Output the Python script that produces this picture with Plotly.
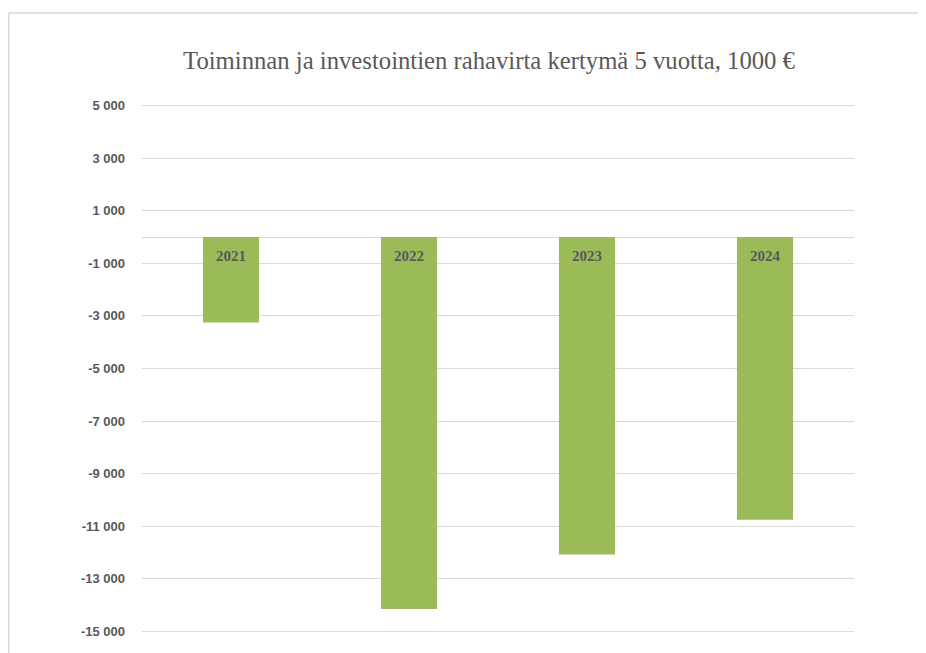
import plotly.graph_objects as go

years = ["2021", "2022", "2023", "2024"]
values = [-3250, -14150, -12080, -10750]
tick_vals = [5000, 3000, 1000, -1000, -3000, -5000, -7000, -9000, -11000, -13000, -15000]
tick_text = ["5 000", "3 000", "1 000", "-1 000", "-3 000", "-5 000", "-7 000",
             "-9 000", "-11 000", "-13 000", "-15 000"]
title_text = "Toiminnan ja investointien rahavirta kertymä 5 vuotta, 1000 €"

# page body adds an 8px margin, so the figure is 8px smaller each way
W, H = 918, 645
L, R, T, B = 134, 72, 95, 19
pw, ph = W - L - R, H - T - B

fig = go.Figure()
fig.add_trace(go.Bar(x=years, y=values, marker=dict(color="#9BBB59", line=dict(width=0)),
                     width=0.315, hoverinfo="x+y"))

for i, yr in enumerate(years):
    fig.add_annotation(x=i, y=0, xref="x", yref="y", text="<b>%s</b>" % yr,
                       showarrow=False, yanchor="top", yshift=-9,
                       font=dict(family="Liberation Serif", size=15, color="#595959"))

# chart-area border (left and top edges visible)
bx = (0.75 - L) / pw
by = 1 + (T - 5) / ph
fig.add_shape(type="line", xref="paper", yref="paper", x0=bx, x1=bx, y0=-0.2, y1=by,
              line=dict(color="#d9d9d9", width=1.5))
fig.add_shape(type="line", xref="paper", yref="paper", x0=bx, x1=1.3, y0=by, y1=by,
              line=dict(color="#d9d9d9", width=1.5))

fig.update_layout(
    width=W, height=H,
    margin=dict(l=L, r=R, t=T, b=B, pad=0),
    paper_bgcolor="white", plot_bgcolor="white",
    showlegend=False,
    title=dict(text=title_text, x=481 / W, xanchor="center",
               y=1 - 52 / H, yanchor="middle",
               font=dict(family="Liberation Serif", size=24.7, color="#595959")),
    xaxis=dict(type="category", range=[-0.5, len(years) - 0.5], showticklabels=False,
               showgrid=False, zeroline=False, showline=False, ticks=""),
    yaxis=dict(range=[-15100, 5100], tickvals=tick_vals, ticktext=tick_text,
               showgrid=True, gridcolor="#d9d9d9", gridwidth=1.3,
               zeroline=True, zerolinecolor="#d9d9d9", zerolinewidth=1.3,
               showline=False, ticks="", ticklabelstandoff=16,
               tickfont=dict(family="Liberation Sans", size=13, color="#595959",
                             weight="bold")),
)
fig.write_html("out.html")
